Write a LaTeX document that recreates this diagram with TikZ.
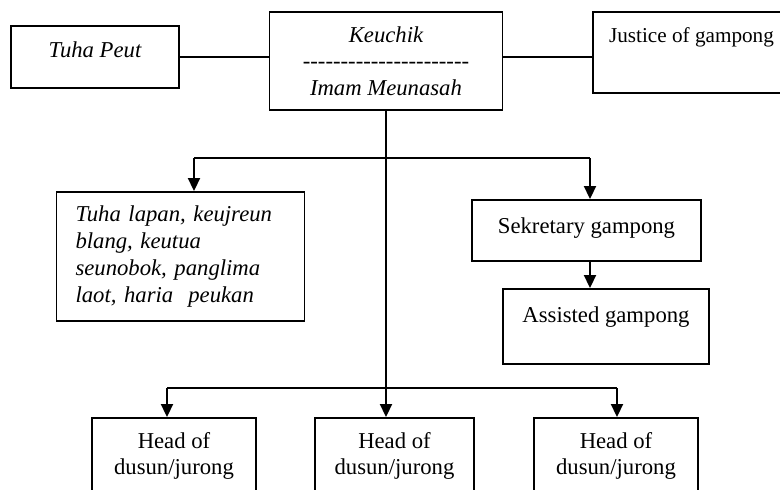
\documentclass[tikz,border=0pt]{standalone}
\usepackage{fontspec}
\setmainfont{Liberation Serif}
\usetikzlibrary{arrows.meta}

\newcommand{\hyrow}{\foreach \k in {1,...,22}{\mbox{-}}}

\begin{document}
\begin{tikzpicture}[
  x=1pt, y=-1pt,
  font=\fontsize{22.7}{26.7}\selectfont,
  box/.style={draw, line width=1.9pt, inner sep=0pt, align=center},
  conn/.style={line width=1.9pt},
  arr/.style={-{Triangle[length=13pt, width=12pt]}, line width=1.9pt},
]
  \useasboundingbox (0,0) rectangle (780,490);

  % top row
  \node[box, minimum width=168pt, text height=31pt, text depth=31pt] (tuha) at (95,57)
    {\itshape Tuha Peut};
  \node[box, minimum width=233pt, minimum height=98pt] (keu) at (386,61)
    {\itshape Keuchik\\\hyrow\\\itshape Imam Meunasah};
  \node[box, minimum width=197pt, text height=30pt, text depth=51pt,
        font=\fontsize{21.2}{25}\selectfont] (jus) at (691.5,52.5)
    {Justice of gampong};

  % middle row
  \node[box, text width=210pt, inner xsep=19pt, minimum height=129pt, align=left] (lap) at (180.5,256.5)
    {\itshape Tuha lapan, keujreun\\\itshape blang, keutua\\\itshape seunobok, panglima\\\itshape laot, haria\ \ peukan};
  \node[box, minimum width=229pt, text height=33pt, text depth=28pt] (sek) at (586.5,230.5)
    {Sekretary gampong};
  \node[box, minimum width=206pt, text height=33pt, text depth=42pt] (ast) at (606,326.5)
    {Assisted gampong};

  % bottom row (cut by the page edge)
  \node[box, minimum width=164pt, minimum height=76pt] (hd1) at (174,456) {Head of\\dusun/jurong};
  \node[box, minimum width=159pt, minimum height=76pt] (hd2) at (394.5,456) {Head of\\dusun/jurong};
  \node[box, minimum width=164pt, minimum height=76pt] (hd3) at (616,456) {Head of\\dusun/jurong};

  % side links
  \draw[conn] (tuha.east) -- (tuha.east -| keu.west);
  \draw[conn] (tuha.east -| keu.east) -- (tuha.east -| jus.west);

  % first branch
  \coordinate (jl) at (194,158);
  \coordinate (jr) at (590,158);
  \draw[conn] (jl) -- (jr);
  \draw[arr] (jl) -- (jl |- lap.north);
  \draw[arr] (jr) -- (jr |- sek.north);
  \draw[arr] (jr |- sek.south) -- (jr |- ast.north);

  % trunk and dusun branch
  \coordinate (hl) at (167,388);
  \coordinate (hr) at (617,388);
  \draw[arr] (keu.south) -- (keu.south |- hd2.north);
  \draw[conn] (hl) -- (hr);
  \draw[arr] (hl) -- (hl |- hd1.north);
  \draw[arr] (hr) -- (hr |- hd3.north);
\end{tikzpicture}
\end{document}
